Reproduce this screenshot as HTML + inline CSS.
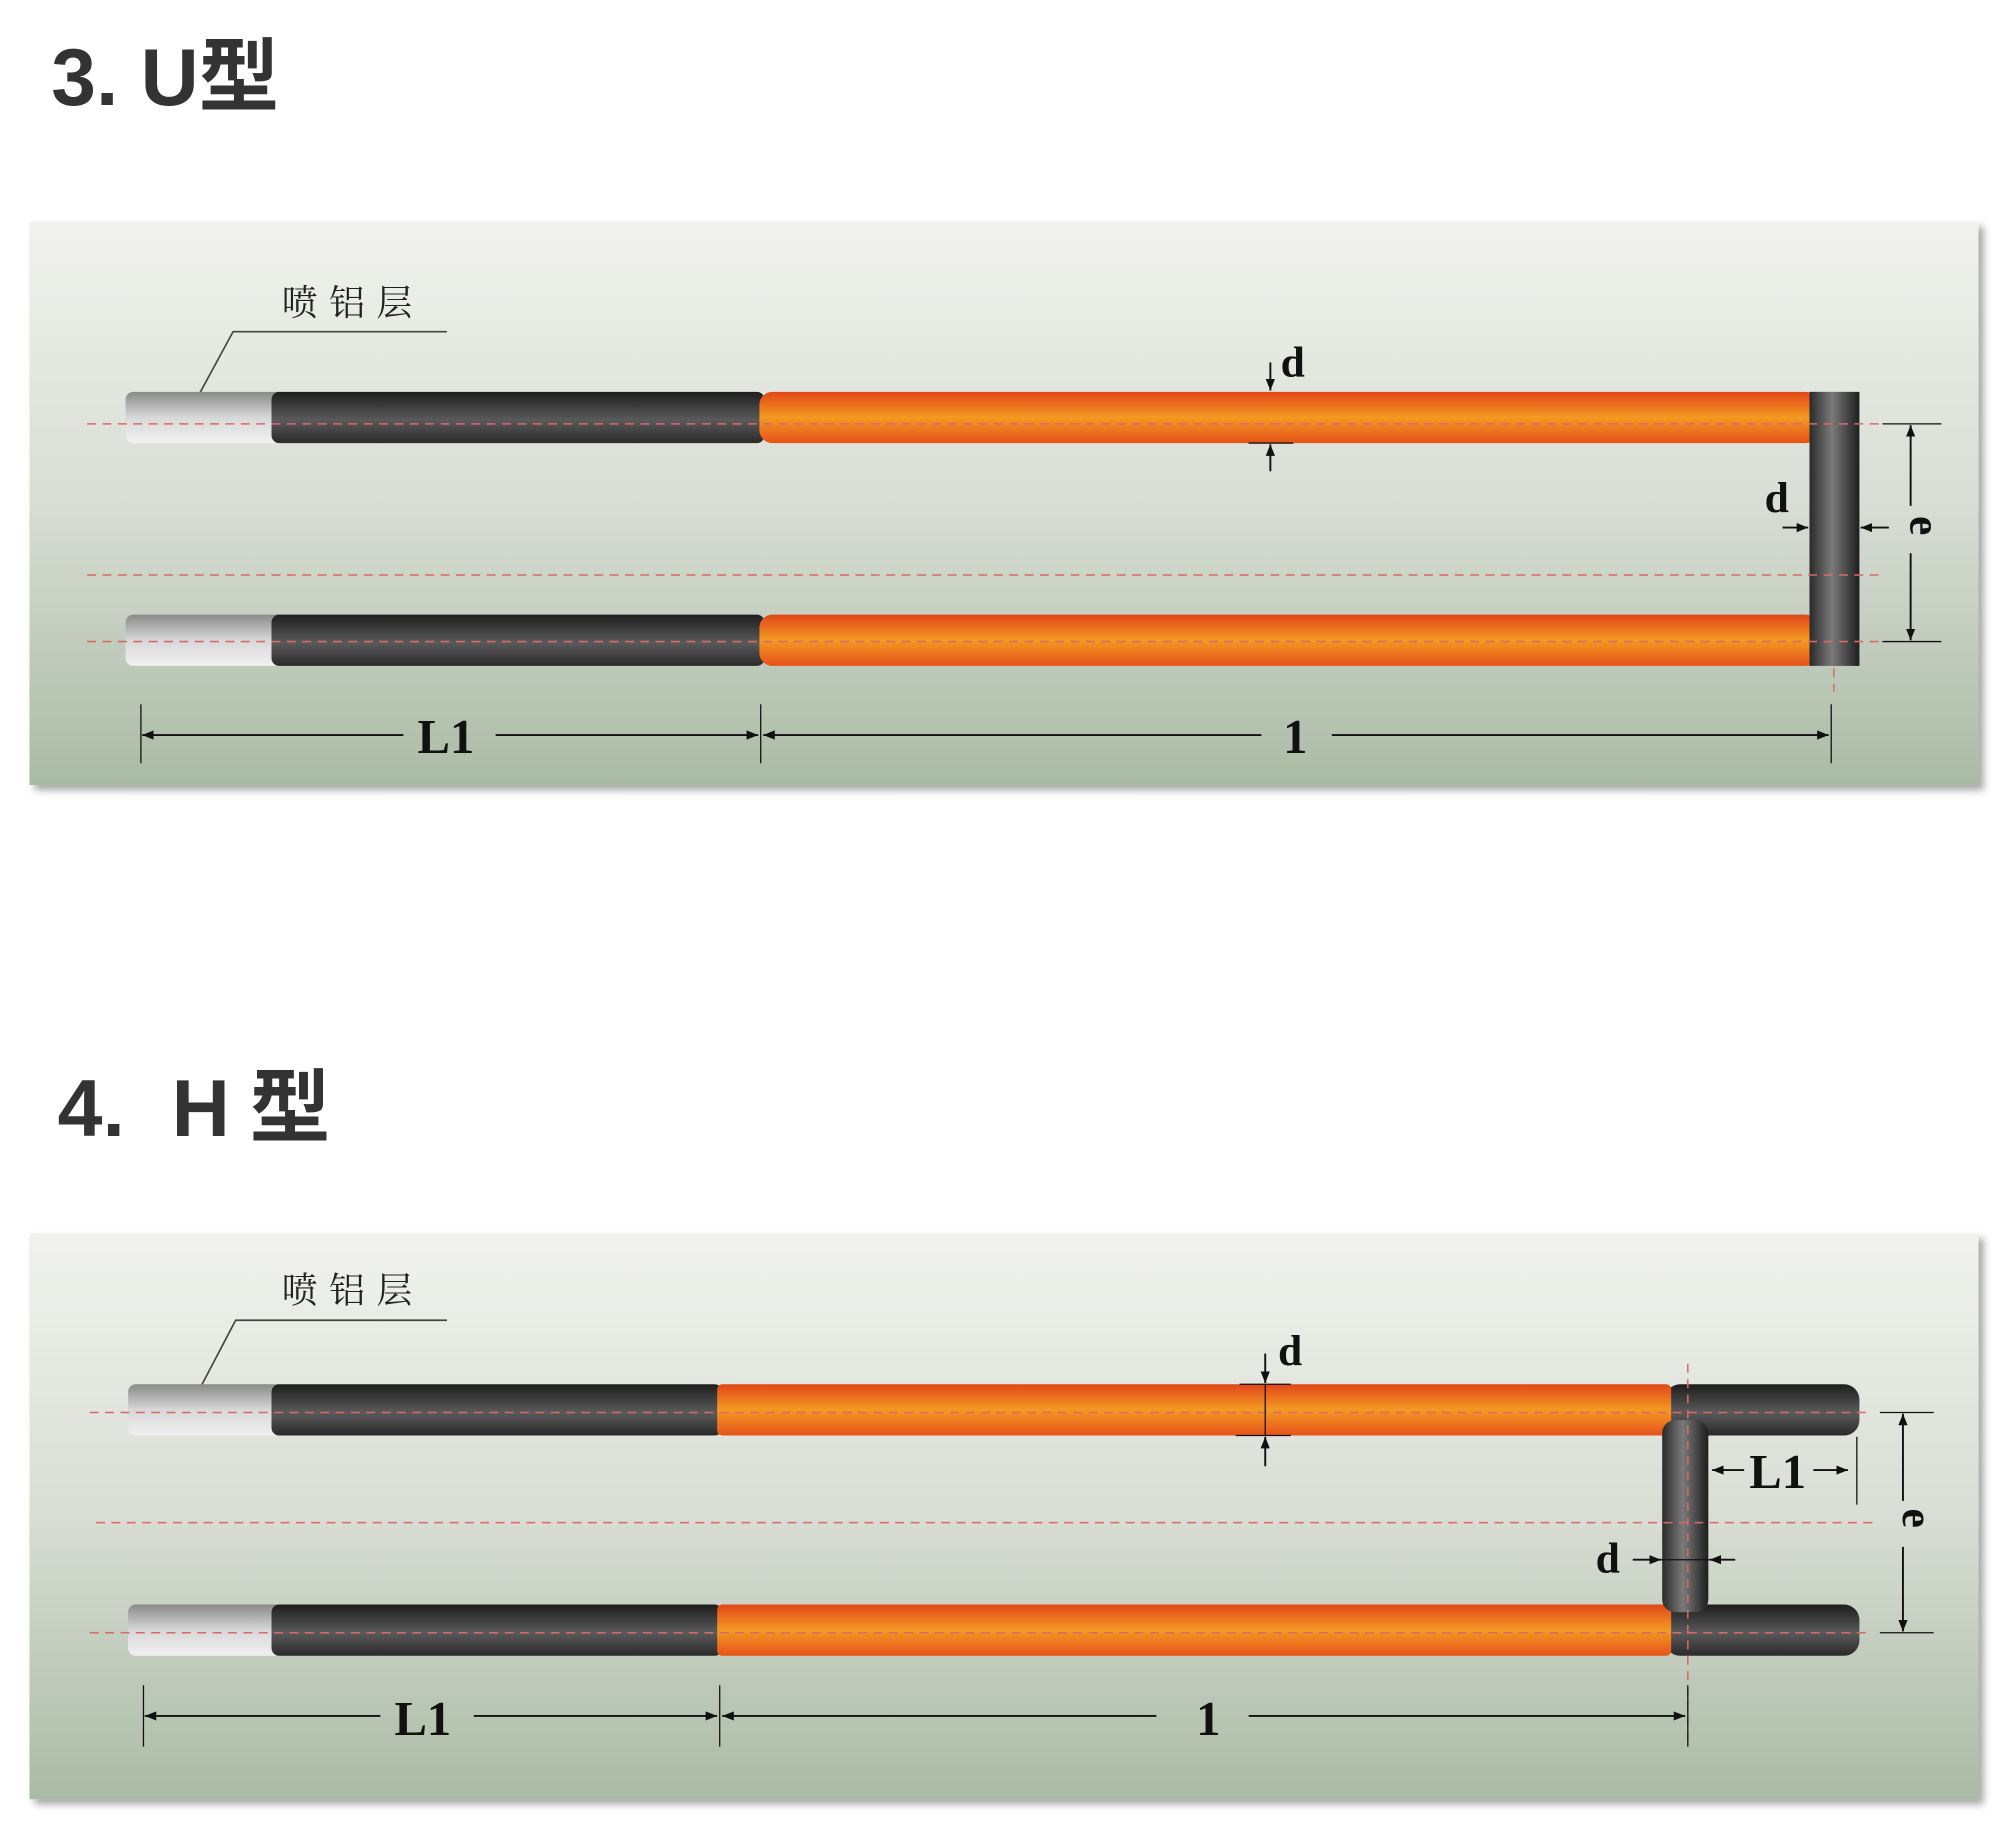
<!DOCTYPE html>
<html><head><meta charset="utf-8"><style>html,body{margin:0;padding:0;background:#fff}svg{display:block}</style></head>
<body>
<svg width="2008" height="1828" viewBox="0 0 1568 1427.5" xmlns="http://www.w3.org/2000/svg">
<defs>
<linearGradient id="bg" x1="0" y1="0" x2="0" y2="1"><stop offset="0" stop-color="#f1f2ee"/><stop offset="0.5" stop-color="#d9ddd4"/><stop offset="1" stop-color="#aabba5"/></linearGradient>
<linearGradient id="sil" x1="0" y1="0" x2="0" y2="1"><stop offset="0" stop-color="#8a8a8a"/><stop offset="0.5" stop-color="#d8d8d8"/><stop offset="1" stop-color="#f0f0f0"/></linearGradient>
<linearGradient id="drk" x1="0" y1="0" x2="0" y2="1"><stop offset="0" stop-color="#1e1e1e"/><stop offset="0.55" stop-color="#5a5a5a"/><stop offset="1" stop-color="#2a2a2a"/></linearGradient>
<linearGradient id="drkv" x1="0" y1="0" x2="1" y2="0"><stop offset="0" stop-color="#2a2a2a"/><stop offset="0.45" stop-color="#7a7a7a"/><stop offset="1" stop-color="#1e1e1e"/></linearGradient>
<linearGradient id="org" x1="0" y1="0" x2="0" y2="1"><stop offset="0" stop-color="#e2461a"/><stop offset="0.5" stop-color="#f39a22"/><stop offset="1" stop-color="#e6521a"/></linearGradient>
<marker id="ar" viewBox="0 0 10 10" refX="10" refY="5" markerWidth="9" markerHeight="9" orient="auto-start-reverse" markerUnits="userSpaceOnUse"><path d="M0,1 L10,5 L0,9 z" fill="#111"/></marker>
<filter id="sh" x="-5%" y="-5%" width="110%" height="115%"><feDropShadow dx="4" dy="4" stdDeviation="3" flood-color="#000" flood-opacity="0.35"/></filter>
</defs>
<g font-family="Liberation Sans, Noto Sans CJK SC, sans-serif" font-weight="bold" fill="#333" font-size="63">
<text x="40" y="82" textLength="178" lengthAdjust="spacingAndGlyphs">3. U型</text>
<text x="45" y="887">4.</text>
<text x="134" y="887">H</text>
<text x="195" y="887">型</text>
</g>

<!-- Panel 1 -->
<rect x="23" y="173" width="1522" height="440" fill="url(#bg)" filter="url(#sh)"/>
<g font-family="Liberation Serif, serif" font-weight="bold" fill="#111">
<text x="220" y="246" font-family="Noto Serif CJK SC, serif" font-weight="normal" font-size="28" letter-spacing="9" fill="#222">喷铝层</text>
<polyline points="349,259 182,259 150,318" fill="none" stroke="#444" stroke-width="1.3"/>
<rect x="98" y="306" width="125" height="40" rx="6" fill="url(#sil)"/>
<rect x="98" y="480" width="125" height="40" rx="6" fill="url(#sil)"/>
<rect x="212" y="306" width="385" height="40" rx="6" fill="url(#drk)"/>
<rect x="212" y="480" width="385" height="40" rx="6" fill="url(#drk)"/>
<rect x="593" y="306" width="827" height="40" rx="10" fill="url(#org)"/>
<rect x="593" y="480" width="827" height="40" rx="10" fill="url(#org)"/>
<rect x="1413" y="306" width="39" height="214" fill="url(#drkv)"/>
<g stroke="#d86a6a" stroke-width="1.2" stroke-dasharray="7,5" fill="none">
<line x1="68" y1="331" x2="1470" y2="331"/><line x1="68" y1="449" x2="1470" y2="449"/><line x1="68" y1="501" x2="1470" y2="501"/><line x1="1432" y1="522" x2="1432" y2="540"/>
</g>
<g stroke="#111" stroke-width="1.5" fill="none">
<line x1="992" y1="283" x2="992" y2="305" marker-end="url(#ar)"/>
<line x1="992" y1="368" x2="992" y2="347" marker-end="url(#ar)"/>
<line x1="975" y1="346" x2="1010" y2="346" stroke-width="1"/>
<line x1="1392" y1="412" x2="1412" y2="412" marker-end="url(#ar)"/>
<line x1="1475" y1="412" x2="1453" y2="412" marker-end="url(#ar)"/>
<line x1="1470" y1="331" x2="1516" y2="331" stroke-width="1"/><line x1="1470" y1="501" x2="1516" y2="501" stroke-width="1"/>
<line x1="1492" y1="395" x2="1492" y2="332" marker-end="url(#ar)"/>
<line x1="1492" y1="432" x2="1492" y2="500" marker-end="url(#ar)"/>
<line x1="110" y1="550" x2="110" y2="596" stroke-width="1"/><line x1="594" y1="550" x2="594" y2="596" stroke-width="1"/><line x1="1430" y1="550" x2="1430" y2="596" stroke-width="1"/>
<line x1="315" y1="574" x2="111" y2="574" marker-end="url(#ar)"/>
<line x1="387" y1="574" x2="592" y2="574" marker-end="url(#ar)"/>
<line x1="985" y1="574" x2="596" y2="574" marker-end="url(#ar)"/>
<line x1="1040" y1="574" x2="1428" y2="574" marker-end="url(#ar)"/>
</g>
<text x="1000" y="294" font-size="34">d</text>
<text x="1378" y="400" font-size="34">d</text>
<text x="1480" y="415" font-size="34" transform="rotate(90 1492 415)">e</text>
<text x="326" y="588" font-size="38">L1</text>
<text x="1002" y="588" font-size="38">1</text>
</g>

<!-- Panel 2 -->
<rect x="23" y="963" width="1522" height="442" fill="url(#bg)" filter="url(#sh)"/>
<g font-family="Liberation Serif, serif" font-weight="bold" fill="#111">
<text x="220" y="1017" font-family="Noto Serif CJK SC, serif" font-weight="normal" font-size="28" letter-spacing="9" fill="#222">喷铝层</text>
<polyline points="349,1031 184,1031 152,1092" fill="none" stroke="#444" stroke-width="1.3"/>
<rect x="100" y="1081" width="123" height="40" rx="6" fill="url(#sil)"/>
<rect x="100" y="1253" width="123" height="40" rx="6" fill="url(#sil)"/>
<rect x="212" y="1081" width="352" height="40" rx="6" fill="url(#drk)"/>
<rect x="212" y="1253" width="352" height="40" rx="6" fill="url(#drk)"/>
<rect x="1300" y="1081" width="152" height="40" rx="12" fill="url(#drk)"/>
<rect x="1300" y="1253" width="152" height="40" rx="12" fill="url(#drk)"/>
<rect x="560" y="1081" width="745" height="40" rx="4" fill="url(#org)"/>
<rect x="560" y="1253" width="745" height="40" rx="4" fill="url(#org)"/>
<rect x="1298" y="1109" width="36" height="150" rx="10" fill="url(#drkv)"/>
<g stroke="#d86a6a" stroke-width="1.2" stroke-dasharray="7,5" fill="none">
<line x1="70" y1="1103" x2="1462" y2="1103"/><line x1="75" y1="1189" x2="1465" y2="1189"/><line x1="70" y1="1275" x2="1462" y2="1275"/><line x1="1318" y1="1065" x2="1318" y2="1362"/>
</g>
<g stroke="#111" stroke-width="1.5" fill="none">
<line x1="988" y1="1057" x2="988" y2="1080" marker-end="url(#ar)"/>
<line x1="988" y1="1145" x2="988" y2="1122" marker-end="url(#ar)"/>
<line x1="988" y1="1081" x2="988" y2="1121" stroke-width="1"/>
<line x1="968" y1="1081" x2="1008" y2="1081" stroke-width="1"/><line x1="965" y1="1121" x2="1008" y2="1121" stroke-width="1"/>
<line x1="1362" y1="1148" x2="1337" y2="1148" marker-end="url(#ar)"/>
<line x1="1416" y1="1148" x2="1443" y2="1148" marker-end="url(#ar)"/>
<line x1="1450" y1="1122" x2="1450" y2="1175" stroke-width="1"/>
<line x1="1275" y1="1218" x2="1297" y2="1218" marker-end="url(#ar)"/>
<line x1="1355" y1="1218" x2="1335" y2="1218" marker-end="url(#ar)"/>
<line x1="1297" y1="1218" x2="1335" y2="1218" stroke-width="1"/>
<line x1="1468" y1="1103" x2="1510" y2="1103" stroke-width="1"/><line x1="1468" y1="1275" x2="1510" y2="1275" stroke-width="1"/>
<line x1="1486" y1="1172" x2="1486" y2="1104" marker-end="url(#ar)"/>
<line x1="1486" y1="1208" x2="1486" y2="1274" marker-end="url(#ar)"/>
<line x1="112" y1="1316" x2="112" y2="1364" stroke-width="1"/><line x1="562" y1="1316" x2="562" y2="1364" stroke-width="1"/><line x1="1318" y1="1316" x2="1318" y2="1364" stroke-width="1"/>
<line x1="297" y1="1340" x2="113" y2="1340" marker-end="url(#ar)"/>
<line x1="370" y1="1340" x2="560" y2="1340" marker-end="url(#ar)"/>
<line x1="903" y1="1340" x2="564" y2="1340" marker-end="url(#ar)"/>
<line x1="975" y1="1340" x2="1316" y2="1340" marker-end="url(#ar)"/>
</g>
<text x="998" y="1066" font-size="34">d</text>
<text x="1246" y="1228" font-size="34">d</text>
<text x="1366" y="1162" font-size="38">L1</text>
<text x="1474" y="1190" font-size="34" transform="rotate(90 1486 1190)">e</text>
<text x="308" y="1355" font-size="38">L1</text>
<text x="934" y="1355" font-size="38">1</text>
</g>
</svg>
</body></html>
